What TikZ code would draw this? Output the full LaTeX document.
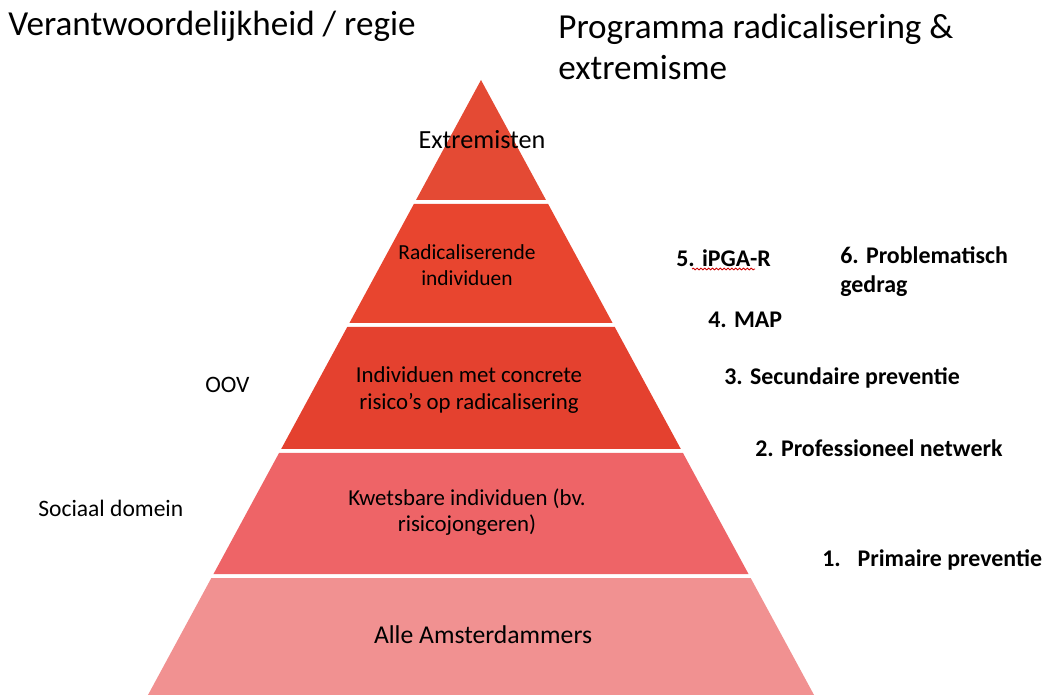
\documentclass[tikz,border=0pt]{standalone}
\usepackage{fontspec}
\setmainfont{Carlito}
\usetikzlibrary{decorations.pathmorphing}

\definecolor{topred}{HTML}{E44A34}
\definecolor{radred}{HTML}{E8452F}
\definecolor{conred}{HTML}{E4412F}
\definecolor{kwetsred}{HTML}{EE6467}
\definecolor{allered}{HTML}{F19191}

\begin{document}
\begin{tikzpicture}[x=0.02cm,y=-0.02cm,
  header/.style={anchor=west,align=left,inner sep=0pt,font=\fontsize{20}{23.2}\selectfont},
  intext/.style={align=center,inner sep=0pt,font=\fontsize{13}{15}\selectfont},
  side/.style={anchor=west,inner sep=0pt,font=\fontsize{13.4}{15}\selectfont},
  prog/.style={anchor=west,align=left,inner sep=0pt,font=\fontsize{13.6}{16.5}\selectfont\bfseries}]
\useasboundingbox (0,0) rectangle (1048,695);

% pyramid layers (top y / bottom y / colour)
\foreach \t/\b/\c in {80/200/topred,204/323/radred,327/449/conred,453/574/kwetsred,578/695/allered}
  \fill[\c] ({481-0.5415*(\t-80)},\t) -- ({481+0.5415*(\t-80)},\t)
    -- ({481+0.5415*(\b-80)},\b) -- ({481-0.5415*(\b-80)},\b) -- cycle;

\node[header](regie) at (8,26) {Verantwoordelijkheid / regie};
\node[header](programma) at (558,47) {Programma radicalisering \&\\extremisme};

\node[intext,font=\fontsize{14.9}{16}\selectfont](extremisten) at (482,140) {Extremisten};
\node[intext,font=\fontsize{12.2}{15}\selectfont](radicaal) at (467,265) {Radicaliserende\\individuen};
\node[intext](concreet) at (469,390) {Individuen met concrete\\risico's op radicalisering};
\node[intext](kwetsbaar) at (467,512) {Kwetsbare individuen (bv.\\risicojongeren)};
\node[intext,font=\fontsize{14.6}{16}\selectfont](alle) at (483,635) {Alle Amsterdammers};

\node[side](oov) at (205,385) {OOV};
\node[side](sociaal) at (38,508) {Sociaal domein};

\node[prog](ipga) at (676,258) {5. iPGA-R};
\node[prog](gedrag) at (840,272) {6. Problematisch\\gedrag};
\node[prog](map) at (708,320) {4. MAP};
\node[prog](secundair) at (724,378) {3. Secundaire preventie};
\node[prog](netwerk) at (755,448) {2. Professioneel netwerk};
\node[prog](primair) at (822,560) {1.\hspace{0.7em}Primaire preventie};

\draw[red!80!black,line width=0.5pt,decorate,decoration={snake,amplitude=0.5pt,segment length=2.2pt}]
  (692,269) -- (755,269);
\end{tikzpicture}
\end{document}
